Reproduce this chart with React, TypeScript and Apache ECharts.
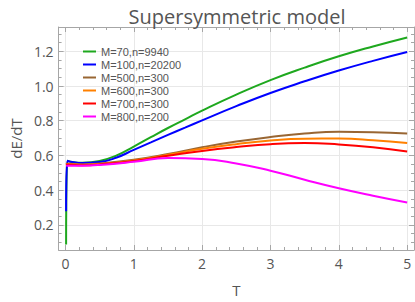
import React, { useEffect, useRef } from "react";
import * as echarts from "echarts";

const seriesNames = [
  "M=70,n=9940",
  "M=100,n=20200",
  "M=500,n=300",
  "M=600,n=300",
  "M=700,n=300",
  "M=800,n=200",
];
const seriesColors = ["#1ea81e", "#0000ff", "#996633", "#ff8000", "#ff0000", "#ff00ff"];

const greenT = [0.01, 0.03, 0.1, 0.25, 0.5, 0.75, 1, 1.25, 1.5, 1.75, 2, 2.5, 3, 3.5, 4, 4.5, 5];
const greenV = [0.087, 0.569, 0.562, 0.558, 0.568, 0.6, 0.651, 0.705, 0.758, 0.808, 0.858, 0.95, 1.034, 1.106, 1.171, 1.228, 1.28];

const blueT = [0.01, 0.03, 0.1, 0.25, 0.5, 0.75, 1, 1.25, 1.5, 1.75, 2, 2.5, 3, 3.5, 4, 4.5, 5];
const blueV = [0.278, 0.569, 0.562, 0.556, 0.562, 0.588, 0.632, 0.675, 0.718, 0.76, 0.802, 0.884, 0.96, 1.027, 1.089, 1.145, 1.196];

const lowT = [0.01, 0.03, 0.25, 0.5, 1, 1.5, 2, 2.5, 3, 3.5, 4, 4.5, 5];
const brownV = [0.55, 0.552, 0.548, 0.553, 0.575, 0.608, 0.647, 0.68, 0.706, 0.726, 0.736, 0.734, 0.726];
const orangeV = [0.548, 0.55, 0.546, 0.55, 0.571, 0.604, 0.638, 0.665, 0.686, 0.696, 0.697, 0.688, 0.671];
const redV = [0.545, 0.547, 0.543, 0.548, 0.568, 0.598, 0.626, 0.648, 0.665, 0.671, 0.663, 0.647, 0.623];
const magentaV = [0.54, 0.541, 0.541, 0.545, 0.563, 0.585, 0.58, 0.554, 0.512, 0.46, 0.411, 0.368, 0.329];

const xMajor = [0, 1, 2, 3, 4, 5];
const yMajor = [0.2, 0.4, 0.6, 0.8, 1.0, 1.2];

const X_MIN = -0.1;
const X_MAX = 5.1;
const Y_MIN = 0.055;
const Y_MAX = 1.34;

function minorValues(min: number, max: number, step: number, majorStep: number) {
  const out: number[] = [];
  const start = Math.ceil(min / step);
  const end = Math.floor(max / step);
  for (let i = start; i <= end; i++) {
    const v = +(i * step).toFixed(4);
    const r = v / majorStep;
    if (Math.abs(r - Math.round(r)) > 1e-6) out.push(v);
  }
  return out;
}

const zip = (t: number[], v: number[]) => t.map((x, i) => [x, v[i]]);

const FRAME = "#a6a6a6";
const TEXT = "#555555";

export default function App() {
  const ref = useRef<HTMLDivElement>(null);
  useEffect(() => {
    if (!ref.current) return;
    const chart = echarts.init(ref.current, undefined, { renderer: "svg" });
    const xMinor = minorValues(X_MIN, X_MAX, 0.2, 1);
    const yMinor = minorValues(Y_MIN, Y_MAX, 0.05, 0.2);

    const baseX = (pos: "bottom" | "top", values: number[], len: number, main: boolean) => ({
      type: "value",
      position: pos,
      min: X_MIN,
      max: X_MAX,
      axisLine: { show: main, onZero: false, lineStyle: { color: FRAME, width: 1 } },
      axisTick: { show: true, inside: true, length: len, customValues: values, lineStyle: { color: FRAME } },
      axisLabel: main && pos === "bottom"
        ? { show: true, customValues: xMajor, color: TEXT, fontSize: 14, fontFamily: "Open Sans", margin: 6 }
        : { show: false },
      splitLine: { show: main && pos === "bottom", lineStyle: { color: "#e8e8e8", width: 1 } },
      name: main && pos === "bottom" ? "T" : "",
      nameLocation: "middle",
      nameGap: 32,
      nameTextStyle: { color: TEXT, fontSize: 15, fontFamily: "Open Sans" },
    });
    const baseY = (pos: "left" | "right", values: number[], len: number, main: boolean) => ({
      type: "value",
      position: pos,
      min: Y_MIN,
      max: Y_MAX,
      axisLine: { show: main, onZero: false, lineStyle: { color: FRAME, width: 1 } },
      axisTick: { show: true, inside: true, length: len, customValues: values, lineStyle: { color: FRAME } },
      axisLabel: main && pos === "left"
        ? { show: true, customValues: yMajor, color: TEXT, fontSize: 14, fontFamily: "Open Sans", margin: 5, formatter: (v: number) => v.toFixed(1) }
        : { show: false },
      splitLine: { show: main && pos === "left", lineStyle: { color: "#e8e8e8", width: 1 } },
      name: main && pos === "left" ? "dE/dT" : "",
      nameLocation: "middle",
      nameGap: 32,
      nameRotate: 90,
      nameTextStyle: { color: TEXT, fontSize: 15, fontFamily: "Open Sans" },
    });

    const datasets = [
      zip(greenT, greenV),
      zip(blueT, blueV),
      zip(lowT, brownV),
      zip(lowT, orangeV),
      zip(lowT, redV),
      zip(lowT, magentaV),
    ];

    chart.setOption({
      animation: false,
      title: {
        text: "Supersymmetric model",
        left: 232,
        textAlign: "center",
        top: 1,
        textStyle: { color: TEXT, fontSize: 20, fontWeight: "normal", fontFamily: "Open Sans" },
      },
      grid: { left: 50, right: 1, top: 27, bottom: 51, containLabel: false },
      legend: {
        orient: "vertical",
        left: 78,
        top: 40,
        itemGap: 0,
        itemWidth: 13,
        itemHeight: 2,
        icon: "rect",
        textStyle: { color: TEXT, fontSize: 11, fontFamily: "Liberation Sans", lineHeight: 13 },
        data: seriesNames,
      },
      xAxis: [
        baseX("bottom", xMajor, 5, true),
        baseX("bottom", xMinor, 3, false),
        baseX("top", xMajor, 5, true),
        baseX("top", xMinor, 3, false),
      ],
      yAxis: [
        baseY("left", yMajor, 5, true),
        baseY("left", yMinor, 3, false),
        baseY("right", yMajor, 5, true),
        baseY("right", yMinor, 3, false),
      ],
      series: seriesNames.map((name, i) => ({
        name,
        type: "line",
        xAxisIndex: 0,
        yAxisIndex: 0,
        data: datasets[i],
        showSymbol: false,
        symbol: "none",
        smooth: 0.5,
        color: seriesColors[i],
        lineStyle: { width: 2, color: seriesColors[i] },
      })),
    });
    return () => chart.dispose();
  }, []);
  return <div ref={ref} style={{ width: 415, height: 302, position: "absolute", left: 0, top: 0 }} />;
}
